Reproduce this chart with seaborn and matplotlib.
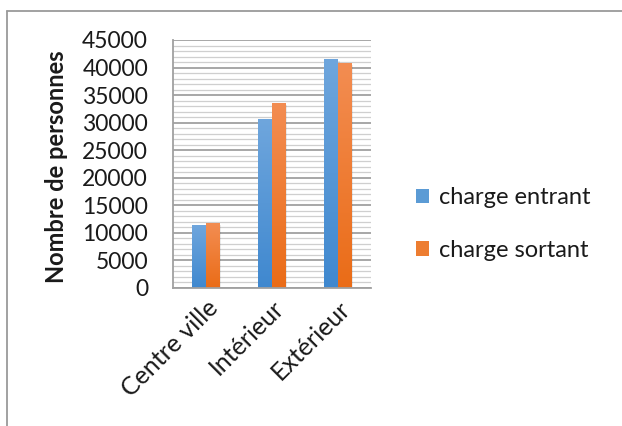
import matplotlib
matplotlib.use("Agg")
import matplotlib.pyplot as plt
from matplotlib.lines import Line2D
from matplotlib.patches import Patch
from matplotlib.colors import LinearSegmentedColormap, to_hex
from matplotlib.ticker import MultipleLocator
import numpy as np
import pandas as pd
import seaborn as sns

categories = ["Centre ville", "Intérieur", "Extérieur"]
series_names = ["charge entrant", "charge sortant"]
entrant = [11400, 30500, 41400]
sortant = [11700, 33500, 40700]
y_ticks = [0, 5000, 10000, 15000, 20000, 25000, 30000, 35000, 40000, 45000]

colors = ["#5B9BD5", "#ED7D31"]
# light (top) and dark (bottom) shades used for the bar fill gradient
shades = {"#5b9bd5": ("#6FA6DD", "#3F88CF"), "#ed7d31": ("#F38D52", "#EA6C17")}

df = pd.DataFrame({
    "zone": categories * 2,
    "serie": [series_names[0]] * 3 + [series_names[1]] * 3,
    "valeur": entrant + sortant,
})

sns.set_style("white")
plt.rcParams["font.family"] = ["Lato", "DejaVu Sans"]

fig = plt.figure(figsize=(6.22, 4.26), dpi=100)
ax = fig.add_axes([173 / 622, 1 - 288 / 426, 198 / 622, 248 / 426])

sns.barplot(data=df, x="zone", y="valeur", hue="serie", palette=colors,
            width=0.41, gap=0, saturation=1, ax=ax, legend=False, zorder=3)

ax.set_ylim(0, 45000)
ax.set_xlim(-0.5, 2.5)

# vertical gradient on each bar, lighter at the top
grad = np.linspace(1, 0, 256).reshape(-1, 1)
for p in ax.patches:
    p.set_edgecolor("none")
    key = to_hex(p.get_facecolor()).lower()
    top, bottom = shades[key]
    cmap = LinearSegmentedColormap.from_list("g", [bottom, top])
    x0, y0 = p.get_x(), p.get_y()
    w, h = p.get_width(), p.get_height()
    ax.imshow(grad, cmap=cmap, extent=(x0, x0 + w, y0, y0 + h),
              aspect="auto", origin="upper", zorder=3.5, interpolation="bilinear")
    # faint shadow on the right side of the bar
    ax.fill_between([x0 + w, x0 + w + 0.025], 0, y0 + h - 300,
                    color="#000000", alpha=0.08, linewidth=0, zorder=3.2)

ax.set_ylim(0, 45000)
ax.set_xlim(-0.5, 2.5)
ax.set_yticks(y_ticks)
ax.yaxis.set_minor_locator(MultipleLocator(1000))
ax.grid(which="major", axis="y", color="#a0a0a0", linewidth=1.3, zorder=0)
ax.grid(which="minor", axis="y", color="#cfcfcf", linewidth=0.9, zorder=0)
ax.set_axisbelow(True)

for side in ["top", "right"]:
    ax.spines[side].set_visible(False)
for side in ["left", "bottom"]:
    ax.spines[side].set_color("#a0a0a0")
    ax.spines[side].set_linewidth(1.3)
    ax.spines[side].set_zorder(4)

ax.tick_params(axis="y", which="major", length=6, width=1.3, color="#a0a0a0",
               labelsize=16.5, labelcolor="#1a1a1a", pad=12)
ax.tick_params(axis="y", which="minor", length=0)
ax.tick_params(axis="x", length=0, labelsize=18, labelcolor="#1a1a1a", pad=6)
for lbl in ax.get_xticklabels():
    lbl.set_rotation(45)
    lbl.set_ha("right")
    lbl.set_rotation_mode("anchor")

ax.set_xlabel("")
ax.set_ylabel("Nombre de personnes", fontsize=17, fontweight="bold",
              color="#1a1a1a")
ax.yaxis.set_label_coords(-0.53, 0.49)

handles = [Patch(facecolor=c, edgecolor="none") for c in colors]
fig.legend(handles, series_names, loc="center left",
           bbox_to_anchor=(395 / 622, 1 - 224 / 426), frameon=False,
           fontsize=17, handlelength=0.55, handleheight=0.55,
           handletextpad=0.4, labelspacing=1.35, labelcolor="#1a1a1a")

# outer border of the chart area
fig.add_artist(Line2D([7.5 / 622, 7.5 / 622], [0, 1 - 10.5 / 426],
                      transform=fig.transFigure, color="#9a9a9a", linewidth=1.3))
fig.add_artist(Line2D([7.5 / 622, 1], [1 - 10.5 / 426, 1 - 10.5 / 426],
                      transform=fig.transFigure, color="#9a9a9a", linewidth=1.3))

fig.savefig("out.png", dpi=100, facecolor="white")
